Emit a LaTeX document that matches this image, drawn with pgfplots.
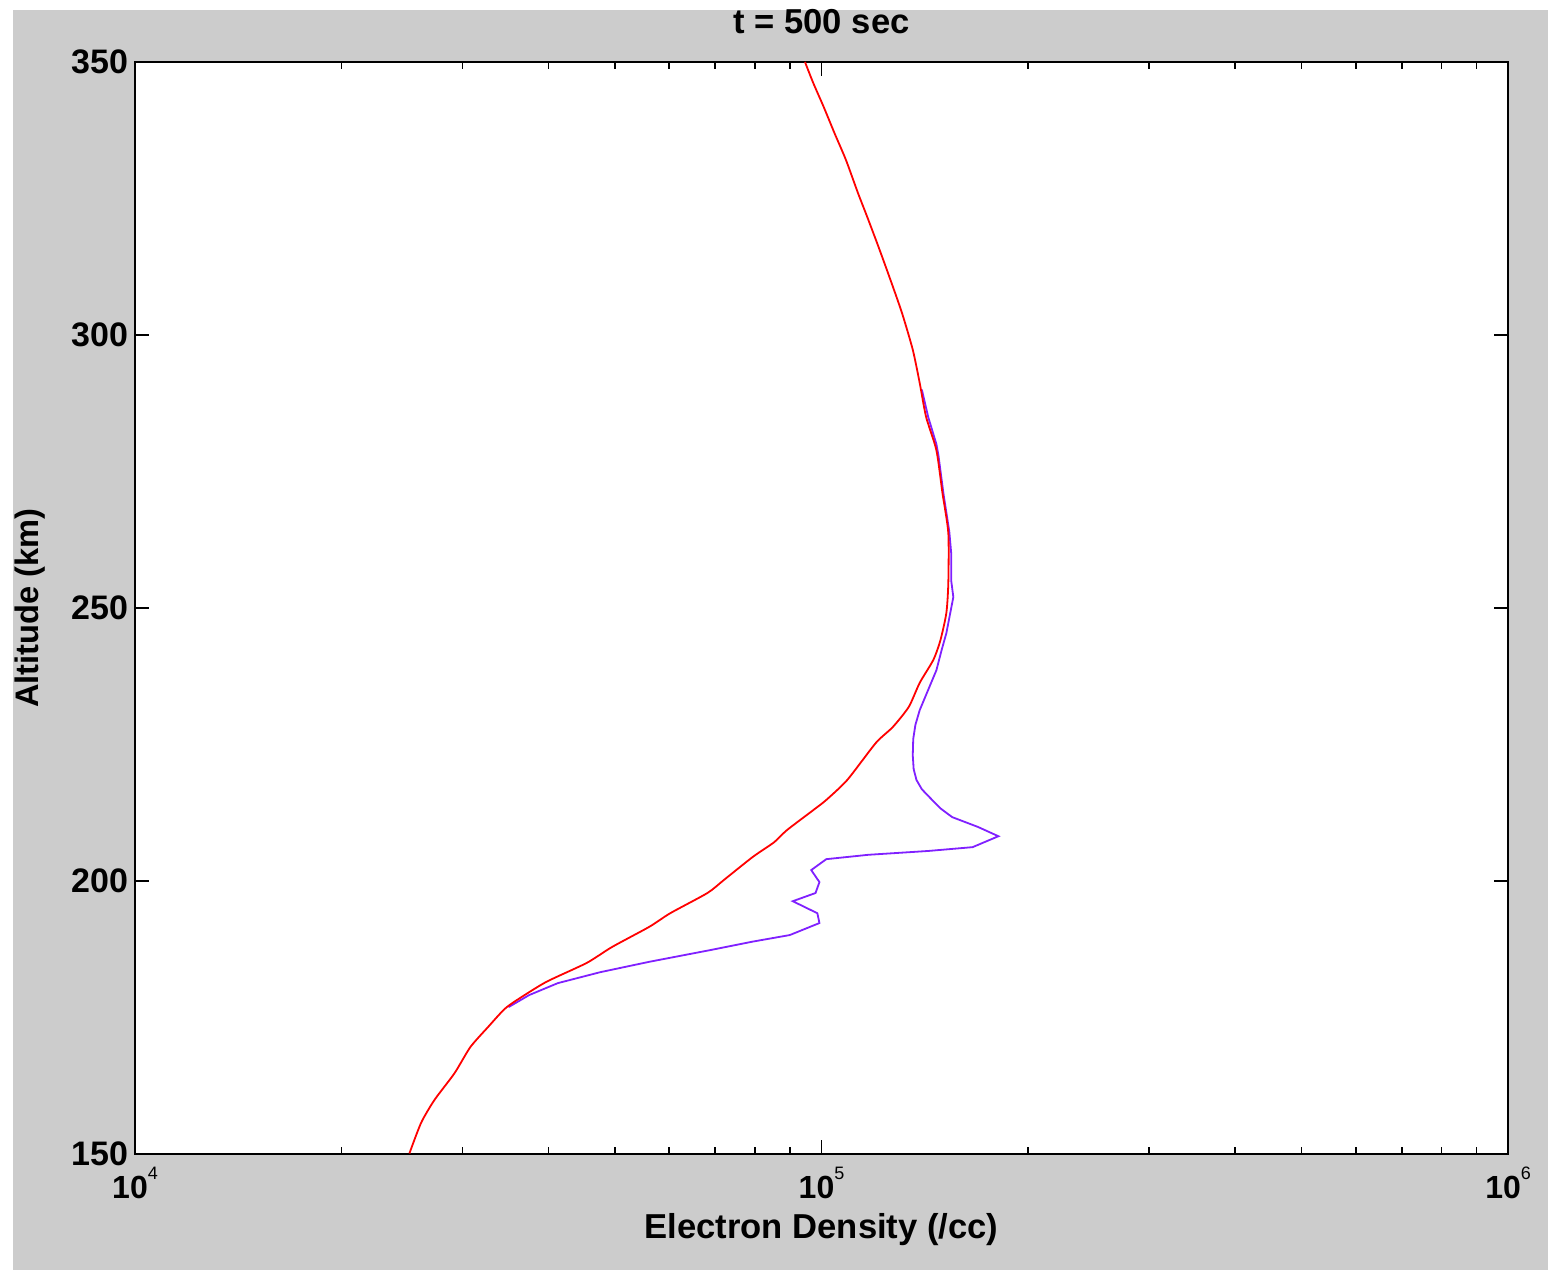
\documentclass[border=0pt]{standalone}
\usepackage{pgfplots}
\pgfplotsset{compat=1.18}
\usepackage{fontspec}
\setmainfont{Liberation Sans}
\definecolor{bgray}{RGB}{204,204,204}
\definecolor{pviolet}{RGB}{128,32,255}
\begin{document}
\begin{tikzpicture}
\fill[white] (0,0) rectangle (775pt,635pt);
\fill[bgray] (6.5pt,0) rectangle (774pt,630pt);
\begin{axis}[
  at={(67.5pt,58pt)}, anchor=south west,
  scale only axis, width=686.5pt, height=546pt,
  xmode=log, xmin=1e4, xmax=1e6, ymin=150, ymax=350,
  axis background/.style={fill=white},
  axis line style={line width=1pt, black},
  every tick/.style={black, line width=0.8pt},
  major tick length=7pt, minor tick length=3.5pt,
  tick align=inside,
  xtick={1e4,1e5,1e6},
  xticklabels={10\raisebox{1.1ex}{\fontsize{9}{9}\selectfont\mdseries 4},10\raisebox{1.1ex}{\fontsize{9}{9}\selectfont\mdseries 5},10\raisebox{1.1ex}{\fontsize{9}{9}\selectfont\mdseries 6}},
  ytick={150,200,250,300,350},
  /pgf/number format/assume math mode=true,
  yticklabel style={font=\fontsize{17}{17}\selectfont\bfseries, xshift=0pt},
  xticklabel style={font=\fontsize{16}{16}\selectfont\bfseries, yshift=-3pt},
  xlabel={Electron Density (/cc)},
  ylabel={Altitude (km)},
  title={t = 500 sec},
  xlabel style={at={(axis description cs:0.5,-0.0696)}, anchor=center, font=\fontsize{17.3}{17.3}\selectfont\bfseries},
  ylabel style={at={(axis description cs:-0.0765,0.5)}, anchor=center, rotate=0, font=\fontsize{16.3}{16.3}\selectfont\bfseries},
  every axis title/.style={at={(axis description cs:0.5,1.0366)}, anchor=center, font=\fontsize{17.3}{17.3}\selectfont\bfseries},
]
% blue (violet) profile
\addplot[pviolet, line width=0.9pt] coordinates {
(3.50e4,176.9) (3.75e4,179.1) (4.13e4,181.3) (4.76e4,183.3) (5.61e4,185.2)
(6.92e4,187.4) (7.94e4,188.9) (8.99e4,190.1) (9.93e4,192.3) (9.86e4,194.1)
(9.08e4,196.3) (9.80e4,197.8) (9.93e4,199.8) (9.66e4,202.0) (1.016e5,204.0)
(1.17e5,204.8) (1.43e5,205.5) (1.66e5,206.2) (1.81e5,208.2) (1.69e5,209.9)
(1.55e5,211.7) (1.49e5,213.3) (1.44e5,215.2) (1.40e5,216.8) (1.375e5,218.5) (1.362e5,220.5)
(1.358e5,223.0) (1.36e5,226.0) (1.37e5,228.6) (1.39e5,231.3) (1.43e5,235.0) (1.47e5,238.6)
(1.496e5,242.3) (1.52e5,245.4) (1.54e5,249.1) (1.556e5,252.0) (1.545e5,255.0)
(1.545e5,260.0) (1.535e5,264.0) (1.505e5,271.0) (1.48e5,278.0) (1.47e5,280.0)
(1.43e5,285.0) (1.40e5,290.0)
};
% red profile
\addplot[red, line width=0.9pt, smooth, tension=0.4] coordinates {
(2.51e4,150.1) (2.61e4,155.7) (2.73e4,159.9) (2.92e4,164.8) (3.08e4,169.6)
(3.27e4,173.3) (3.45e4,176.5) (3.60e4,178.2) (3.97e4,181.5) (4.55e4,185.0)
(4.95e4,187.9) (5.61e4,191.6) (6.02e4,194.1) (6.82e4,197.8) (7.21e4,200.2)
(7.94e4,204.4) (8.53e4,207.1) (8.9e4,209.3) (9.73e4,213.0) (1.015e5,214.8)
(1.09e5,218.5) (1.20e5,225.3) (1.27e5,228.2) (1.34e5,231.9) (1.39e5,236.3)
(1.455e5,240.5) (1.49e5,244.1) (1.52e5,249.1) (1.53e5,254.6) (1.53e5,263.7)
(1.50e5,271.1) (1.47e5,278.9) (1.42e5,285.0) (1.39e5,291.2) (1.358e5,297.3)
(1.31e5,304.0) (1.26e5,310.1) (1.21e5,316.2) (1.165e5,321.7) (1.13e5,326.0)
(1.085e5,332.1) (1.045e5,336.9) (1.007e5,341.8) (9.73e4,346.1) (9.46e4,350.0)
};
\end{axis}
\pgfresetboundingbox
\useasboundingbox (0,0) rectangle (775pt,635pt);
\end{tikzpicture}
\end{document}
